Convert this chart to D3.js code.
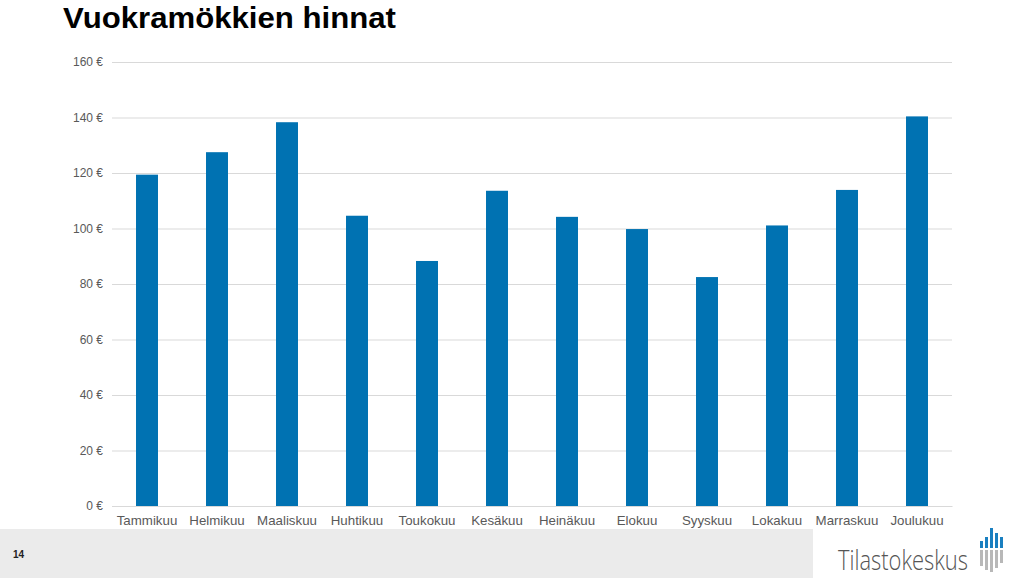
<!DOCTYPE html>
<html>
<head>
<meta charset="utf-8">
<script src="https://cdn.jsdelivr.net/npm/d3@7"></script>
<style>
html,body{margin:0;padding:0;background:#fff;}
svg{display:block;}
</style>
</head>
<body>
<svg id="chart" width="1024" height="578"></svg>
<script>
const months = ["Tammikuu","Helmikuu","Maaliskuu","Huhtikuu","Toukokuu","Kesäkuu","Heinäkuu","Elokuu","Syyskuu","Lokakuu","Marraskuu","Joulukuu"];
const prices = [119.4,127.5,138.3,104.6,88.3,113.6,104.2,99.8,82.5,101.1,113.9,140.4];
const yTicks = [0,20,40,60,80,100,120,140,160];
const titleText = "Vuokramökkien hinnat";
const pageNumber = "14";
const brandText = "Tilastokeskus";
// logo bars: [blueTop, grayBottom]
const logoBars = [[541,566],[537,570],[528,572],[533,568],[537,563]];

const svg = d3.select("#chart");
const margin = {left:112, right:72, top:62, bottom:72};
const W = 1024, H = 578;

// footer band
svg.append("rect").attr("x",0).attr("y",529).attr("width",813).attr("height",49).attr("fill","#ebebeb");
svg.append("text").attr("x",13).attr("y",558).text(pageNumber)
  .attr("font-family","Liberation Sans, Arial, sans-serif").attr("font-size",10).attr("font-weight","bold").attr("fill","#222");

// title
svg.append("text").attr("x",63).attr("y",28).text(titleText)
  .attr("font-family","Liberation Sans, Arial, sans-serif").attr("font-size",29).attr("font-weight","bold").attr("fill","#000")
  .attr("textLength",333).attr("lengthAdjust","spacingAndGlyphs");

const x = d3.scaleBand().domain(months).range([margin.left, W-margin.right]).paddingInner(0.686).paddingOuter(0.343);
const y = d3.scaleLinear().domain([0,160]).range([H-margin.bottom, margin.top]);

// gridlines
const yAxis = d3.axisLeft(y).tickValues(yTicks).tickSize(-(W-margin.right-margin.left)).tickFormat(d=>d+" €");
const gy = svg.append("g").attr("transform",`translate(${margin.left},0)`).call(yAxis);
gy.select(".domain").remove();
gy.selectAll(".tick line").attr("stroke","#d9d9d9").attr("stroke-width",1);
gy.selectAll(".tick text").attr("x",-9).attr("fill","#595959")
  .attr("font-family","Liberation Sans, Arial, sans-serif").attr("font-size",12);

// bars
svg.append("g").selectAll("rect").data(months).join("rect")
  .attr("x",d=>x(d)).attr("width",x.bandwidth())
  .attr("y",(d,i)=>y(prices[i])).attr("height",(d,i)=>y(0)-y(prices[i]))
  .attr("fill","#0072b2");

// x axis
const xAxis = d3.axisBottom(x).tickSize(0).tickPadding(10);
const gx = svg.append("g").attr("transform",`translate(0,${y(0)})`).call(xAxis);
gx.select(".domain").attr("stroke","#d9d9d9");
gx.selectAll(".tick text").attr("fill","#595959")
  .attr("font-family","Liberation Sans, Arial, sans-serif").attr("font-size",13.3);

// brand
svg.append("text").attr("x",838).attr("y",570).text(brandText)
  .attr("font-family","Open Sans, Lato, sans-serif").attr("font-weight",300).attr("font-size",27).attr("fill","#555")
  .attr("textLength",130).attr("lengthAdjust","spacingAndGlyphs");
const logo = svg.append("g");
logoBars.forEach((b,i)=>{
  const bx = 980 + i*5;
  logo.append("rect").attr("x",bx).attr("y",b[0]).attr("width",3).attr("height",548-b[0]).attr("fill","#1a7fc0");
  logo.append("rect").attr("x",bx).attr("y",550).attr("width",3).attr("height",b[1]-550).attr("fill","#b8b8b8");
});
</script>
</body>
</html>
